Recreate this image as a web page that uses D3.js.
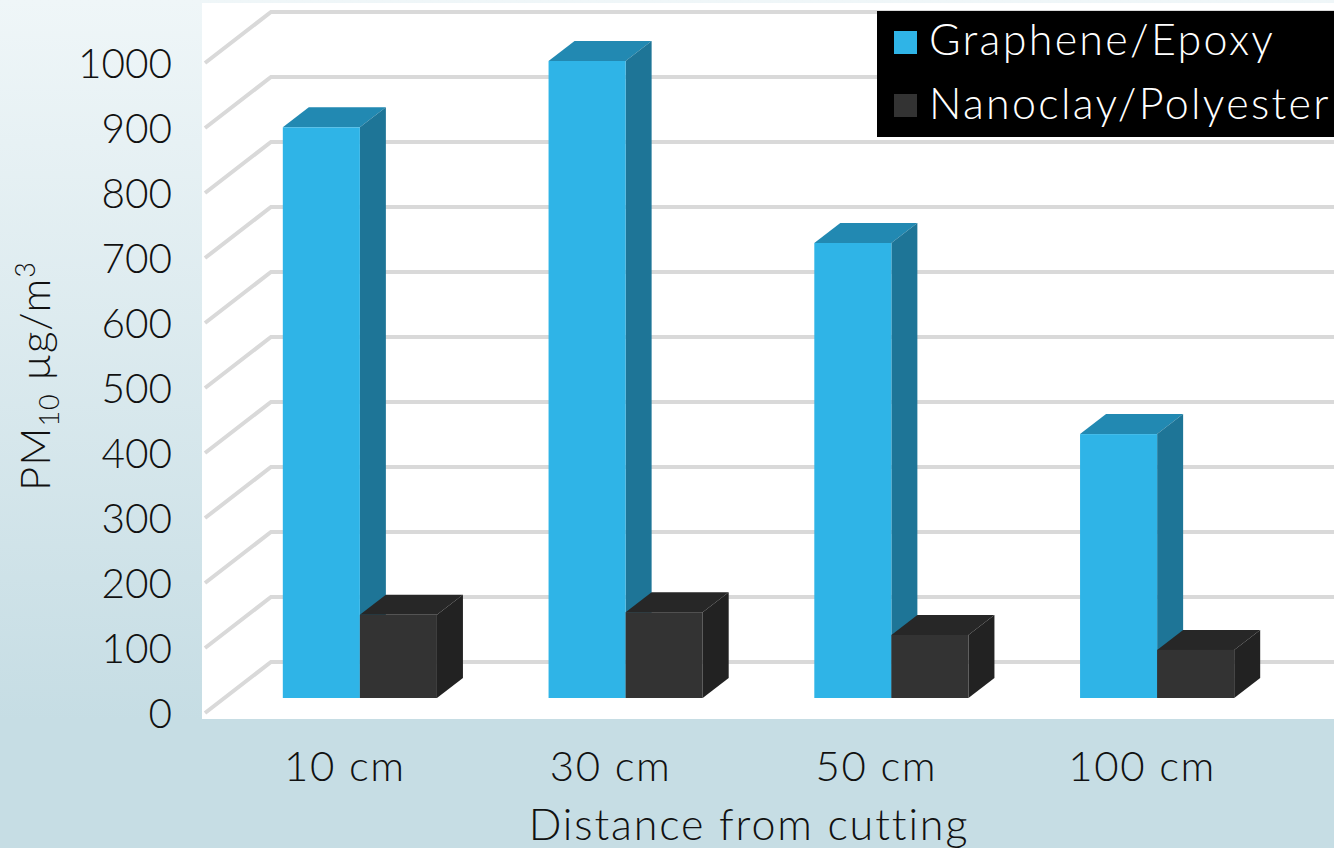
<!DOCTYPE html>
<html>
<head>
<meta charset="utf-8">
<script src="https://cdn.jsdelivr.net/npm/d3@7"></script>
<style>
html,body{margin:0;padding:0;background:#c6dde4;overflow:hidden}
svg{display:block}
text{font-family:Lato,"Open Sans",sans-serif;font-weight:300;fill:#111}
</style>
</head>
<body>
<svg id="chart" width="1334" height="848"></svg>
<script>
// PM10 readings by distance from the cutting point
const categories = ["10 cm", "30 cm", "50 cm", "100 cm"];
const seriesNames = ["Graphene/Epoxy", "Nanoclay/Polyester"];
const grapheneEpoxy = [878, 980, 700, 406];
const nanoclayPolyester = [128, 132, 97, 74];
const tickValues = [0, 100, 200, 300, 400, 500, 600, 700, 800, 900, 1000];

const seriesValues = [grapheneEpoxy, nanoclayPolyester];
const faceColours = [
  {front: "#2fb4e7", top: "#2289b2", side: "#1e7597"},
  {front: "#333333", top: "#272727", side: "#222222"}
];

const svg = d3.select("#chart");
const defs = svg.append("defs");
const bg = defs.append("linearGradient").attr("id", "bg")
  .attr("x1", 0).attr("y1", 0).attr("x2", 0).attr("y2", 1);
bg.append("stop").attr("offset", "0").attr("stop-color", "#eff6f8");
bg.append("stop").attr("offset", "0.85").attr("stop-color", "#c6dde4");

svg.append("rect").attr("width", 1334).attr("height", 848).attr("fill", "url(#bg)");
svg.append("rect").attr("x", 202).attr("y", 3).attr("width", 1132).attr("height", 716).attr("fill", "#fff");

// The three y scales share a span: the front edge, back wall and bar front planes
const yFront = d3.scaleLinear().domain([0, 1000]).range([713, 63]);
const yBack = d3.scaleLinear().domain([0, 1000]).range([662, 12]);
const yBar = d3.scaleLinear().domain([0, 1000]).range([698, 48]);

const xGroup = d3.scaleBand().domain(categories).range([227, 1290]).paddingInner(0.42).paddingOuter(0.21);
const xSeries = d3.scaleBand().domain(seriesNames).range([0, xGroup.bandwidth()]);

const depthX = 26, depthY = 20;

// Gridlines run along the floor side wall and then across the back wall
svg.append("g").selectAll("path").data(tickValues).join("path")
  .attr("d", v => d3.line()([[205, yFront(v)], [271, yBack(v)], [1334, yBack(v)]]))
  .attr("fill", "none").attr("stroke", "#d9d9d9").attr("stroke-width", 4);

const groups = svg.append("g").selectAll("g").data(categories).join("g")
  .attr("transform", c => `translate(${xGroup(c)},0)`);

groups.each(function (c, ci) {
  const g = d3.select(this);
  seriesNames.forEach((s, si) => {
    const v = seriesValues[si][ci];
    const x0 = xSeries(s), x1 = x0 + xSeries.bandwidth();
    const yT = yBar(v), yB = yBar(0);
    const col = faceColours[si];
    g.append("polygon").attr("fill", col.top).attr("points",
      [[x0, yT], [x0 + depthX, yT - depthY], [x1 + depthX, yT - depthY], [x1, yT]].join(" "));
    g.append("polygon").attr("fill", col.side).attr("points",
      [[x1, yT], [x1 + depthX, yT - depthY], [x1 + depthX, yB - depthY], [x1, yB]].join(" "));
    g.append("rect").attr("x", x0).attr("y", yT).attr("width", x1 - x0).attr("height", yB - yT).attr("fill", col.front);
  });
});

// Axes
const axisY = svg.append("g").attr("transform", "translate(172,2)")
  .call(d3.axisLeft(yFront).tickValues(tickValues).tickFormat(d3.format("d")).tickSize(0).tickPadding(0));
axisY.select(".domain").remove();
axisY.selectAll("text").style("font-size", "40.5px").style("font-family", null).attr("fill", null);

const axisX = svg.append("g").attr("transform", "translate(-15,751)")
  .call(d3.axisBottom(xGroup).tickSize(0).tickPadding(0));
axisX.select(".domain").remove();
axisX.selectAll("text").style("font-size", "42px").style("letter-spacing", "1.6px")
  .style("font-family", null).attr("fill", null);

svg.append("text").attr("x", 749).attr("y", 840).attr("text-anchor", "middle")
  .style("font-size", "43px").style("letter-spacing", "1.9px").text("Distance from cutting");

const yTitle = svg.append("text").attr("transform", "translate(50,376) rotate(-90)")
  .attr("text-anchor", "middle").style("font-size", "42px").style("letter-spacing", "1px");
yTitle.append("tspan").text("PM");
yTitle.append("tspan").attr("dy", 9).style("font-size", "27px").text("10");
yTitle.append("tspan").attr("dy", -9).text(" µg/m");
yTitle.append("tspan").attr("dy", -15).style("font-size", "27px").text("3");

// Legend
const legend = svg.append("g");
legend.append("rect").attr("x", 877).attr("y", 11).attr("width", 457).attr("height", 126).attr("fill", "#000");
seriesNames.forEach((s, i) => {
  legend.append("rect").attr("x", 894).attr("y", 31 + i * 63).attr("width", 23).attr("height", 23)
    .attr("fill", faceColours[i].front);
  legend.append("text").attr("x", 929).attr("y", 55 + i * 64).style("fill", "#fff")
    .style("font-size", "43px").style("letter-spacing", "2.3px").text(s);
});
</script>
</body>
</html>
